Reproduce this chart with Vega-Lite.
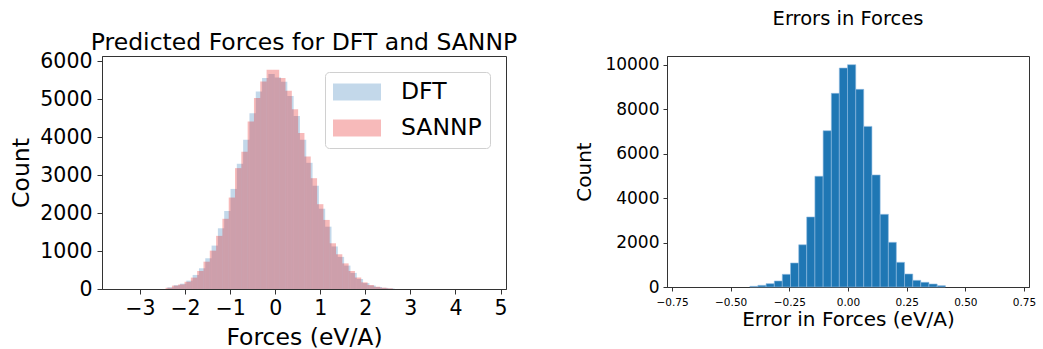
{
  "$schema": "https://vega.github.io/schema/vega-lite/v6.json",
  "background": "white",
  "padding": {"left": 9, "top": 8, "right": 5, "bottom": 5},
  "spacing": 56,
  "config": {
    "view": {"stroke": "#333333", "strokeWidth": 1},
    "axis": {
      "domainColor": "#333333", "tickColor": "#333333", "labelColor": "black", "titleColor": "black",
      "labelFont": "DejaVu Sans", "titleFont": "DejaVu Sans", "titleFontWeight": "normal",
      "grid": false, "labelFlush": false, "labelOverlap": false, "labelBound": false
    },
    "title": {"font": "DejaVu Sans", "fontWeight": "normal", "color": "black", "anchor": "middle"},
    "legend": {"labelFont": "DejaVu Sans"}
  },
  "hconcat": [
    {
      "width": 404,
      "height": 233,
      "title": {"text": "Predicted Forces for DFT and SANNP", "fontSize": 23.5, "offset": 1, "dy": 4},
      "data": {"values": [
        {"series": "DFT", "x0": -2.39, "x1": -2.25, "count": 45},
        {"series": "DFT", "x0": -2.25, "x1": -2.11, "count": 100},
        {"series": "DFT", "x0": -2.11, "x1": -1.97, "count": 140},
        {"series": "DFT", "x0": -1.97, "x1": -1.83, "count": 220},
        {"series": "DFT", "x0": -1.83, "x1": -1.69, "count": 370},
        {"series": "DFT", "x0": -1.69, "x1": -1.55, "count": 546},
        {"series": "DFT", "x0": -1.55, "x1": -1.41, "count": 810},
        {"series": "DFT", "x0": -1.41, "x1": -1.27, "count": 1144},
        {"series": "DFT", "x0": -1.27, "x1": -1.13, "count": 1600},
        {"series": "DFT", "x0": -1.13, "x1": -0.99, "count": 2057},
        {"series": "DFT", "x0": -0.99, "x1": -0.85, "count": 2637},
        {"series": "DFT", "x0": -0.85, "x1": -0.71, "count": 3300},
        {"series": "DFT", "x0": -0.71, "x1": -0.57, "count": 3930},
        {"series": "DFT", "x0": -0.57, "x1": -0.43, "count": 4633},
        {"series": "DFT", "x0": -0.43, "x1": -0.29, "count": 5205},
        {"series": "DFT", "x0": -0.29, "x1": -0.15, "count": 5560},
        {"series": "DFT", "x0": -0.15, "x1": -0.01, "count": 5665},
        {"series": "DFT", "x0": -0.01, "x1": 0.13, "count": 5575},
        {"series": "DFT", "x0": 0.13, "x1": 0.27, "count": 5463},
        {"series": "DFT", "x0": 0.27, "x1": 0.41, "count": 5084},
        {"series": "DFT", "x0": 0.41, "x1": 0.55, "count": 4557},
        {"series": "DFT", "x0": 0.55, "x1": 0.69, "count": 3930},
        {"series": "DFT", "x0": 0.69, "x1": 0.83, "count": 3325},
        {"series": "DFT", "x0": 0.83, "x1": 0.97, "count": 2721},
        {"series": "DFT", "x0": 0.97, "x1": 1.11, "count": 2115},
        {"series": "DFT", "x0": 1.11, "x1": 1.25, "count": 1642},
        {"series": "DFT", "x0": 1.25, "x1": 1.39, "count": 1121},
        {"series": "DFT", "x0": 1.39, "x1": 1.53, "count": 846},
        {"series": "DFT", "x0": 1.53, "x1": 1.67, "count": 617},
        {"series": "DFT", "x0": 1.67, "x1": 1.81, "count": 424},
        {"series": "DFT", "x0": 1.81, "x1": 1.95, "count": 264},
        {"series": "DFT", "x0": 1.95, "x1": 2.09, "count": 155},
        {"series": "DFT", "x0": 2.09, "x1": 2.23, "count": 92},
        {"series": "DFT", "x0": 2.23, "x1": 2.37, "count": 53},
        {"series": "DFT", "x0": 2.37, "x1": 2.51, "count": 30},
        {"series": "DFT", "x0": 2.51, "x1": 2.65, "count": 13},
        {"series": "SANNP", "x0": -2.43, "x1": -2.29, "count": 35},
        {"series": "SANNP", "x0": -2.29, "x1": -2.15, "count": 90},
        {"series": "SANNP", "x0": -2.15, "x1": -2.01, "count": 120},
        {"series": "SANNP", "x0": -2.01, "x1": -1.87, "count": 190},
        {"series": "SANNP", "x0": -1.87, "x1": -1.73, "count": 300},
        {"series": "SANNP", "x0": -1.73, "x1": -1.59, "count": 475},
        {"series": "SANNP", "x0": -1.59, "x1": -1.45, "count": 720},
        {"series": "SANNP", "x0": -1.45, "x1": -1.31, "count": 1010},
        {"series": "SANNP", "x0": -1.31, "x1": -1.17, "count": 1400},
        {"series": "SANNP", "x0": -1.17, "x1": -1.03, "count": 1850},
        {"series": "SANNP", "x0": -1.03, "x1": -0.89, "count": 2410},
        {"series": "SANNP", "x0": -0.89, "x1": -0.75, "count": 3185},
        {"series": "SANNP", "x0": -0.75, "x1": -0.61, "count": 3620},
        {"series": "SANNP", "x0": -0.61, "x1": -0.47, "count": 4415},
        {"series": "SANNP", "x0": -0.47, "x1": -0.33, "count": 5030},
        {"series": "SANNP", "x0": -0.33, "x1": -0.19, "count": 5470},
        {"series": "SANNP", "x0": -0.19, "x1": -0.05, "count": 5780},
        {"series": "SANNP", "x0": -0.05, "x1": 0.09, "count": 5780},
        {"series": "SANNP", "x0": 0.09, "x1": 0.23, "count": 5560},
        {"series": "SANNP", "x0": 0.23, "x1": 0.37, "count": 5225},
        {"series": "SANNP", "x0": 0.37, "x1": 0.51, "count": 4740},
        {"series": "SANNP", "x0": 0.51, "x1": 0.65, "count": 4110},
        {"series": "SANNP", "x0": 0.65, "x1": 0.79, "count": 3490},
        {"series": "SANNP", "x0": 0.79, "x1": 0.93, "count": 2920},
        {"series": "SANNP", "x0": 0.93, "x1": 1.07, "count": 2235},
        {"series": "SANNP", "x0": 1.07, "x1": 1.21, "count": 1820},
        {"series": "SANNP", "x0": 1.21, "x1": 1.35, "count": 1205},
        {"series": "SANNP", "x0": 1.35, "x1": 1.49, "count": 915},
        {"series": "SANNP", "x0": 1.49, "x1": 1.63, "count": 675},
        {"series": "SANNP", "x0": 1.63, "x1": 1.77, "count": 475},
        {"series": "SANNP", "x0": 1.77, "x1": 1.91, "count": 300},
        {"series": "SANNP", "x0": 1.91, "x1": 2.05, "count": 175},
        {"series": "SANNP", "x0": 2.05, "x1": 2.19, "count": 105},
        {"series": "SANNP", "x0": 2.19, "x1": 2.33, "count": 60},
        {"series": "SANNP", "x0": 2.33, "x1": 2.47, "count": 35},
        {"series": "SANNP", "x0": 2.47, "x1": 2.61, "count": 18}
      ]},
      "mark": {"type": "bar", "opacity": 0.3, "strokeWidth": 0, "orient": "vertical"},
      "encoding": {
        "x": {
          "field": "x0", "type": "quantitative",
          "scale": {"domain": [-3.73, 5.01], "nice": false, "zero": false},
          "axis": {
            "values": [-3, -2, -1, 0, 1, 2, 3, 4, 5],
            "labelExpr": "replace(datum.label, '-', '\u2212')",
            "title": "Forces (eV/A)", "titleFontSize": 23.5, "labelFontSize": 20.5,
            "tickSize": 5, "labelPadding": 4, "titlePadding": 7
          }
        },
        "x2": {"field": "x1"},
        "y": {
          "field": "count", "type": "quantitative", "stack": null,
          "scale": {"domain": [0, 6140], "nice": false},
          "axis": {
            "values": [0, 1000, 2000, 3000, 4000, 5000, 6000], "format": "d",
            "title": "Count", "titleFontSize": 23.5, "labelFontSize": 20.5,
            "tickSize": 5, "labelPadding": 5, "titlePadding": 6
          }
        },
        "y2": {"datum": 0},
        "color": {
          "field": "series", "type": "nominal",
          "scale": {"domain": ["DFT", "SANNP"], "range": ["#377eb8", "#e41a1c"]},
          "legend": {
            "orient": "none", "legendX": 223, "legendY": 16, "title": null,
            "symbolType": "M-1,-0.7H3V0.7H-1Z", "symbolSize": 576,
            "symbolOpacity": 0.3, "symbolStrokeWidth": 0,
            "labelFontSize": 23.5, "labelColor": "black", "labelOffset": 44,
            "rowPadding": 12, "padding": 8,
            "strokeColor": "#d0d0d0", "fillColor": "white", "cornerRadius": 4
          }
        }
      }
    },
    {
      "width": 362,
      "height": 231,
      "title": {"text": "Errors in Forces", "fontSize": 19.5, "offset": 26},
      "data": {"values": [
        {"x0": -0.418, "x1": -0.384, "count": 30},
        {"x0": -0.384, "x1": -0.349, "count": 75},
        {"x0": -0.349, "x1": -0.314, "count": 150},
        {"x0": -0.314, "x1": -0.280, "count": 270},
        {"x0": -0.280, "x1": -0.245, "count": 570},
        {"x0": -0.245, "x1": -0.210, "count": 1080},
        {"x0": -0.210, "x1": -0.176, "count": 1900},
        {"x0": -0.176, "x1": -0.141, "count": 3150},
        {"x0": -0.141, "x1": -0.106, "count": 4980},
        {"x0": -0.106, "x1": -0.071, "count": 7030},
        {"x0": -0.071, "x1": -0.037, "count": 8710},
        {"x0": -0.037, "x1": -0.002, "count": 9850},
        {"x0": -0.002, "x1": 0.033, "count": 10000},
        {"x0": 0.033, "x1": 0.067, "count": 8890},
        {"x0": 0.067, "x1": 0.102, "count": 7225},
        {"x0": 0.102, "x1": 0.137, "count": 5040},
        {"x0": 0.137, "x1": 0.172, "count": 3270},
        {"x0": 0.172, "x1": 0.206, "count": 2010},
        {"x0": 0.206, "x1": 0.241, "count": 1110},
        {"x0": 0.241, "x1": 0.276, "count": 585},
        {"x0": 0.276, "x1": 0.310, "count": 300},
        {"x0": 0.310, "x1": 0.345, "count": 210},
        {"x0": 0.345, "x1": 0.380, "count": 135},
        {"x0": 0.380, "x1": 0.415, "count": 60}
      ]},
      "mark": {"type": "bar", "color": "#1f77b4", "stroke": "#8fbbe0", "strokeWidth": 0.6, "orient": "vertical"},
      "encoding": {
        "x": {
          "field": "x0", "type": "quantitative",
          "scale": {"domain": [-0.75, 0.75], "nice": false, "zero": false},
          "axis": {
            "values": [-0.75, -0.5, -0.25, 0, 0.25, 0.5, 0.75], "format": ".2f",
            "labelExpr": "replace(datum.label, '-', '\u2212')",
            "title": "Error in Forces (eV/A)", "titleFontSize": 20, "labelFontSize": 10.5,
            "tickSize": 4, "labelPadding": 6, "titlePadding": 2
          }
        },
        "x2": {"field": "x1"},
        "y": {
          "field": "count", "type": "quantitative",
          "scale": {"domain": [0, 10391], "nice": false},
          "axis": {
            "values": [0, 2000, 4000, 6000, 8000, 10000], "format": "d",
            "title": "Count", "titleFontSize": 20, "labelFontSize": 17,
            "tickSize": 4, "labelPadding": 4, "titlePadding": 10
          }
        },
        "y2": {"datum": 0}
      }
    }
  ]
}
